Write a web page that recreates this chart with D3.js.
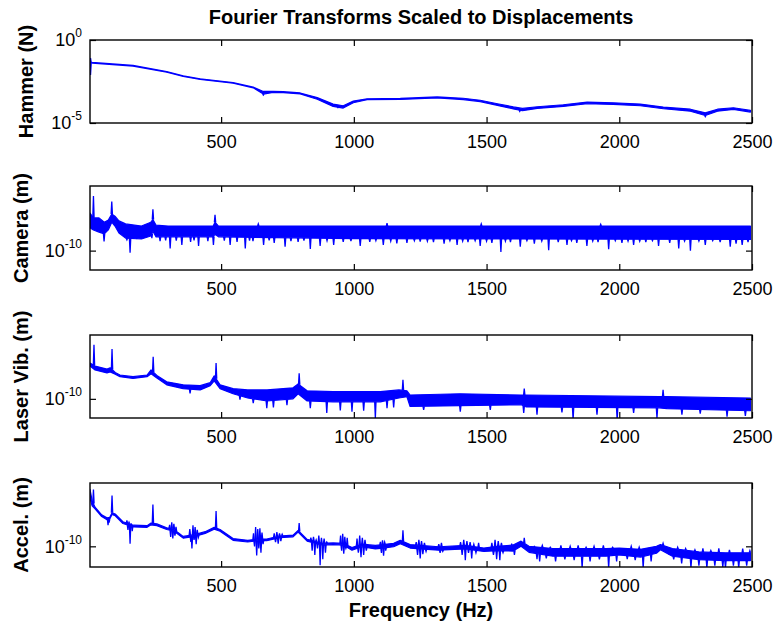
<!DOCTYPE html>
<html>
<head>
<meta charset="utf-8">
<script src="https://cdn.jsdelivr.net/npm/d3@7"></script>
<style>
  body { margin: 0; background: #fff; }
  text { font-family: "Liberation Sans", Arial, sans-serif; }
</style>
</head>
<body>
<div id="chart"></div>
<script>
"use strict"

// shared x axis
const freqDomain = [6, 2500];
const freqTicks = [500, 1000, 1500, 2000, 2500];

// all magnitudes below are log10 values
// Hammer (N)
const hammerFreq = [8, 14, 168, 295, 357, 421, 545, 621, 659, 696, 734, 798, 862, 922, 960, 998, 1050, 1175, 1314, 1412, 1476, 1541, 1601, 1635, 1691, 1789, 1879, 1977, 2079, 2166, 2268, 2324, 2370, 2430, 2494];
const hammerHi = [-1.34, -1.35, -1.53, -1.90, -2.16, -2.34, -2.56, -2.84, -3.10, -3.10, -3.11, -3.19, -3.47, -3.86, -3.96, -3.68, -3.54, -3.52, -3.43, -3.51, -3.63, -3.84, -4.03, -4.12, -4.02, -3.90, -3.74, -3.78, -3.86, -4.04, -4.17, -4.39, -4.17, -4.08, -4.24];
const hammerLo = [-1.40, -1.39, -1.57, -1.94, -2.20, -2.38, -2.60, -2.88, -3.26, -3.16, -3.17, -3.25, -3.57, -4.00, -4.10, -3.78, -3.60, -3.58, -3.49, -3.59, -3.71, -3.94, -4.15, -4.26, -4.12, -4.00, -3.84, -3.88, -3.96, -4.14, -4.29, -4.55, -4.29, -4.18, -4.34];
const hammerSpikes = [[8, -1.09], [8, -2.10], [659, -3.32], [940, -4.08], [1625, -4.30], [2324, -4.62]];

// Camera (m)
const cameraFreq = [6, 19, 40, 60, 75, 88, 100, 115, 140, 200, 235, 243, 255, 300, 470, 477, 490, 1000, 2494];
const cameraHi = [-9.13, -9.24, -9.24, -9.34, -9.29, -9.15, -9.20, -9.31, -9.38, -9.43, -9.34, -9.28, -9.41, -9.43, -9.43, -9.34, -9.43, -9.43, -9.43];
const cameraLo = [-9.47, -9.52, -9.57, -9.61, -9.52, -9.34, -9.43, -9.59, -9.71, -9.73, -9.66, -9.55, -9.68, -9.68, -9.68, -9.62, -9.68, -9.72, -9.74];
const cameraSpikes = [
  [19, -8.73], [88, -8.86], [243, -9.04], [477, -9.17], [1125, -9.36], [640, -9.38], [1480, -9.38], [1930, -9.39],
  [59, -9.79], [145, -9.75], [157, -10.05], [182, -9.71], [239, -9.71], [270, -9.78], [291, -9.76], [308, -9.95],
  [331, -9.77], [352, -9.87], [385, -9.80], [398, -9.76], [415, -9.89], [450, -9.78], [471, -9.87], [512, -9.77],
  [534, -9.87], [560, -9.80], [591, -9.95], [607, -9.77], [620, -9.78], [660, -9.87], [681, -9.76], [700, -9.82],
  [741, -9.91], [763, -9.78], [790, -9.80], [812, -9.77], [836, -9.96], [873, -9.89], [899, -9.77], [924, -9.87],
  [960, -9.80], [989, -9.78], [1024, -9.89], [1060, -9.80], [1083, -9.77], [1111, -9.87], [1139, -9.78],
  [1162, -9.83], [1200, -9.82], [1228, -9.77], [1250, -9.79], [1277, -9.78], [1300, -9.80], [1340, -9.84],
  [1362, -9.77], [1389, -9.87], [1410, -9.78], [1430, -9.80], [1457, -9.77], [1476, -9.89], [1500, -9.78],
  [1520, -9.82], [1554, -10.03], [1571, -9.78], [1590, -9.80], [1627, -9.91], [1652, -9.77], [1680, -9.84],
  [1708, -9.78], [1734, -9.99], [1770, -9.80], [1803, -9.87], [1820, -9.77], [1840, -9.82], [1878, -9.89],
  [1900, -9.78], [1920, -9.80], [1960, -9.97], [1985, -9.77], [2010, -9.82], [2033, -9.78], [2054, -9.87],
  [2077, -9.78], [2100, -9.80], [2125, -9.77], [2148, -9.89], [2190, -9.82], [2224, -9.95], [2246, -9.78],
  [2268, -10.00], [2300, -9.78], [2324, -9.87], [2352, -9.77], [2380, -9.80], [2418, -9.91], [2440, -9.84],
  [2463, -9.87], [2485, -9.80]
];

// Laser Vib. (m)
const laserFreq = [6, 25, 70, 82, 101, 119, 168, 221, 236, 258, 295, 357, 421, 459, 474, 496, 545, 600, 673, 771, 790, 824, 922, 1100, 1170, 1200, 1212, 1400, 1630, 1650, 2150, 2180, 2494];
const laserHi = [-9.16, -9.23, -9.30, -9.27, -9.38, -9.44, -9.48, -9.44, -9.32, -9.45, -9.60, -9.67, -9.69, -9.62, -9.46, -9.67, -9.76, -9.79, -9.79, -9.74, -9.65, -9.81, -9.83, -9.83, -9.79, -9.81, -9.91, -9.88, -9.91, -9.91, -9.95, -9.95, -9.98];
const laserLo = [-9.23, -9.32, -9.39, -9.37, -9.42, -9.48, -9.52, -9.48, -9.41, -9.51, -9.67, -9.76, -9.79, -9.69, -9.58, -9.76, -9.88, -9.98, -10.05, -10.00, -9.88, -10.05, -10.07, -10.07, -9.98, -9.95, -10.18, -10.16, -10.14, -10.19, -10.21, -10.23, -10.28];
const laserSpikes = [
  [21, -8.73], [89, -8.83], [244, -9.01], [481, -9.16], [794, -9.40], [1185, -9.55], [1642, -9.76], [2165, -9.79],
  [383, -9.87], [571, -10.02], [621, -10.10], [672, -10.22], [697, -10.20], [748, -10.15], [836, -10.22],
  [898, -10.33], [949, -10.27], [993, -10.30], [1037, -10.28], [1081, -10.45], [1125, -10.22], [1150, -10.20],
  [1263, -10.26], [1401, -10.30], [1514, -10.26], [1640, -10.33], [1690, -10.37], [1784, -10.32], [1826, -10.50],
  [1916, -10.37], [1992, -10.50], [2054, -10.33], [2142, -10.45], [2236, -10.37], [2305, -10.35], [2406, -10.42],
  [2475, -10.40]
];

// Accel. (m)
const accelFreq = [6, 14, 25, 50, 70, 80, 89, 101, 130, 170, 221, 236, 258, 295, 320, 357, 400, 440, 474, 496, 545, 600, 640, 672, 720, 771, 790, 824, 880, 922, 960, 993, 1030, 1081, 1110, 1150, 1175, 1212, 1250, 1320, 1420, 1490, 1540, 1600, 1630, 1660, 1750, 1850, 1950, 2000, 2080, 2140, 2155, 2200, 2300, 2400, 2494];
const accelHi = [-8.68, -8.94, -9.09, -9.27, -9.34, -9.33, -9.22, -9.25, -9.43, -9.51, -9.52, -9.46, -9.48, -9.57, -9.60, -9.77, -9.73, -9.66, -9.56, -9.61, -9.82, -9.86, -9.83, -9.83, -9.76, -9.74, -9.63, -9.84, -9.93, -9.92, -9.93, -10.03, -9.95, -9.98, -9.96, -9.93, -9.86, -9.96, -9.98, -10.01, -9.98, -10.04, -10.00, -9.97, -9.88, -10.00, -10.05, -10.05, -10.05, -10.04, -10.07, -10.00, -9.96, -10.05, -10.13, -10.15, -10.15];
const accelLo = [-8.88, -9.06, -9.13, -9.31, -9.38, -9.37, -9.26, -9.29, -9.47, -9.55, -9.56, -9.50, -9.52, -9.61, -9.64, -9.81, -9.77, -9.70, -9.60, -9.65, -9.86, -9.90, -9.87, -9.87, -9.80, -9.78, -9.67, -9.88, -9.97, -9.96, -9.97, -10.09, -10.01, -10.06, -10.04, -10.01, -9.94, -10.04, -10.06, -10.09, -10.06, -10.12, -10.10, -10.11, -10.00, -10.14, -10.23, -10.23, -10.23, -10.20, -10.25, -10.16, -10.08, -10.23, -10.31, -10.33, -10.33];
const accelSpikes = [
  [19, -8.68], [89, -8.82], [243, -9.03], [481, -9.18], [794, -9.46], [1185, -9.63], [1642, -9.80], [2165, -9.93],
  [74, -9.51], [78, -9.45],
  [145, -9.40], [149, -9.62], [153, -9.44], [157, -9.94], [161, -9.48], [165, -9.65],
  [306, -9.50], [310, -9.78], [314, -9.44], [318, -9.82], [322, -9.48], [326, -9.75], [330, -9.55],
  [382, -9.60], [386, -9.90], [390, -10.05], [394, -9.51], [398, -9.85], [402, -9.55], [406, -9.95], [410, -9.62], [414, -9.80],
  [622, -9.70], [626, -10.00], [630, -9.55], [634, -10.21], [638, -9.60], [642, -10.05], [646, -9.58], [650, -10.15], [654, -9.68], [658, -9.95],
  [700, -9.70], [705, -9.90], [710, -9.67], [715, -9.94], [720, -9.70], [725, -9.88], [730, -9.72],
  [838, -9.80], [843, -10.10], [848, -9.78], [853, -10.20], [858, -9.85], [863, -10.05], [868, -9.75], [873, -10.44],
  [878, -9.80], [883, -10.30], [888, -9.82], [893, -10.15], [898, -9.90],
  [950, -9.75], [954, -10.10], [958, -9.71], [962, -10.17], [966, -9.78], [970, -10.05], [975, -9.80],
  [1012, -9.82], [1017, -10.15], [1022, -9.75], [1027, -10.25], [1032, -9.80], [1037, -10.20], [1042, -9.85], [1047, -10.10],
  [1100, -9.90], [1104, -10.15], [1108, -9.86], [1112, -10.22], [1116, -9.90], [1120, -10.10],
  [1235, -9.90], [1240, -10.20], [1245, -9.85], [1250, -10.28], [1255, -9.88], [1260, -10.18], [1266, -9.92], [1272, -10.12],
  [1320, -9.95], [1325, -10.15], [1330, -9.92], [1335, -10.12],
  [1402, -9.90], [1408, -10.20], [1414, -9.85], [1420, -10.32], [1426, -9.88], [1432, -10.15], [1438, -9.90], [1444, -10.28],
  [1452, -9.95], [1460, -10.15], [1470, -9.92],
  [1520, -9.92], [1526, -10.20], [1532, -9.85], [1538, -10.30], [1544, -9.88], [1550, -10.32], [1556, -9.92], [1562, -10.15],
  [1595, -9.95], [1605, -10.20],
  [1680, -10.00], [1690, -10.30], [1700, -10.35], [1710, -9.98], [1725, -10.28], [1740, -10.02], [1760, -10.35], [1780, -9.98], [1795, -10.30],
  [1815, -10.00], [1830, -10.32], [1845, -9.98], [1860, -10.50], [1875, -10.02], [1890, -10.35], [1905, -10.00],
  [1925, -10.30], [1940, -9.98], [1960, -10.50], [1975, -10.02], [1990, -10.35], [2010, -10.05], [2030, -10.30],
  [2045, -10.00], [2060, -10.32], [2075, -10.02], [2090, -10.50], [2105, -10.05], [2120, -10.35],
  [2190, -10.05], [2205, -10.30], [2220, -10.02], [2235, -10.40], [2250, -10.05], [2270, -10.50], [2285, -10.08],
  [2300, -10.45], [2315, -10.05], [2330, -10.50], [2345, -10.10], [2360, -10.45],
  [2375, -10.05], [2390, -10.48], [2400, -10.50], [2415, -10.08], [2430, -10.45], [2450, -10.50], [2465, -10.05],
  [2480, -10.45], [2492, -10.10]
];

const panels = [
  {label: "Hammer (N)", freq: hammerFreq, hi: hammerHi, lo: hammerLo, spikes: hammerSpikes, yExp: [-5, 0], yTicks: [-5, 0], top: 40, h: 83, labelX: 33},
  {label: "Camera (m)", freq: cameraFreq, hi: cameraHi, lo: cameraLo, spikes: cameraSpikes, yExp: [-10.45, -8.5], yTicks: [-10], top: 186, h: 84, labelX: 28},
  {label: "Laser Vib. (m)", freq: laserFreq, hi: laserHi, lo: laserLo, spikes: laserSpikes, yExp: [-10.45, -8.5], yTicks: [-10], top: 335, h: 83, labelX: 28},
  {label: "Accel. (m)", freq: accelFreq, hi: accelHi, lo: accelLo, spikes: accelSpikes, yExp: [-10.48, -8.53], yTicks: [-10], top: 483, h: 84, labelX: 28}
];

const W = 773, H = 624;
const left = 90, right = 752;
const plotW = right - left;
const tickLen = 6;

let svg = d3.select("#chart").append("svg")
  .attr("width", W)
  .attr("height", H);

svg.append("rect").attr("width", W).attr("height", H).attr("fill", "#fff");

let x = d3.scaleLinear().domain(freqDomain).range([0, plotW]);

panels.forEach(function(p, i) {
  let g = svg.append("g").attr("transform", "translate(" + left + "," + p.top + ")");
  let y = d3.scaleLog()
    .domain([Math.pow(10, p.yExp[0]), Math.pow(10, p.yExp[1])])
    .range([p.h, 0]);

  let clipId = "clip" + i;
  g.append("clipPath").attr("id", clipId)
    .append("rect").attr("width", plotW).attr("height", p.h);

  let rows = p.freq.map(function(f, k) { return {f: f, hi: p.hi[k], lo: p.lo[k]}; });

  let area = d3.area()
    .x(function(d) { return x(d.f); })
    .y0(function(d) { return y(Math.pow(10, d.lo)); })
    .y1(function(d) { return y(Math.pow(10, d.hi)); });

  let dataG = g.append("g").attr("clip-path", "url(#" + clipId + ")");

  dataG.append("path")
    .datum(rows)
    .attr("d", area)
    .attr("fill", "#0000ff")
    .attr("stroke", "#0000ff")
    .attr("stroke-width", 1.2)
    .attr("stroke-linejoin", "round");

  // band edges at any frequency, for the spike bases
  let hiAt = d3.scaleLinear().domain(p.freq).range(p.hi).clamp(true);
  let loAt = d3.scaleLinear().domain(p.freq).range(p.lo).clamp(true);

  dataG.selectAll(".spike")
    .data(p.spikes)
    .enter().append("path")
    .attr("class", "spike")
    .attr("d", function(d) {
      let up = d[1] > hiAt(d[0]);
      let base = up ? hiAt(d[0]) : loAt(d[0]);
      let yb = y(Math.pow(10, base)), yv = y(Math.pow(10, d[1]));
      return "M" + x(d[0] - 2.5) + "," + yb + "L" + x(d[0]) + "," + yv + "L" + x(d[0] + 2.5) + "," + yb;
    })
    .attr("fill", "none")
    .attr("stroke", "#0000ff")
    .attr("stroke-width", 1.3);

  // axes, ticks pointing inward on all four sides
  let xb = g.append("g").attr("transform", "translate(0," + p.h + ")")
    .call(d3.axisBottom(x).tickValues(freqTicks).tickFormat(d3.format("d"))
      .tickSizeInner(-tickLen).tickSizeOuter(0).tickPadding(12));
  g.append("g")
    .call(d3.axisTop(x).tickValues(freqTicks).tickSizeInner(-tickLen).tickSizeOuter(0).tickFormat(""));

  let yTickVals = p.yTicks.map(function(e) { return Math.pow(10, e); });
  let yl = g.append("g")
    .call(d3.axisLeft(y).tickValues(yTickVals).tickSizeInner(-tickLen).tickSizeOuter(0).tickPadding(8));
  g.append("g").attr("transform", "translate(" + plotW + ",0)")
    .call(d3.axisRight(y).tickValues(yTickVals).tickSizeInner(-tickLen).tickSizeOuter(0).tickFormat(""));

  g.selectAll(".domain").remove();
  g.selectAll(".tick line").attr("stroke", "#000").attr("stroke-width", 1.2);

  xb.selectAll(".tick text")
    .style("font-size", "18px")
    .style("font-family", "'Liberation Sans', Arial, sans-serif")
    .attr("fill", "#000");

  yl.selectAll(".tick text")
    .style("font-size", "18px")
    .style("font-family", "'Liberation Sans', Arial, sans-serif")
    .attr("fill", "#000")
    .each(function(d) {
      let t = d3.select(this);
      let ex = Math.round(Math.log10(d));
      t.text(null);
      t.append("tspan").text("10");
      t.append("tspan").attr("dy", "-0.75em").style("font-size", "12px").text(ex);
    });

  g.append("rect")
    .attr("width", plotW)
    .attr("height", p.h)
    .attr("fill", "none")
    .attr("stroke", "#000")
    .attr("stroke-width", 1.4);

  svg.append("text")
    .attr("transform", "translate(" + p.labelX + "," + (p.top + p.h / 2) + ") rotate(-90)")
    .attr("text-anchor", "middle")
    .style("font-size", "20px")
    .style("font-weight", "bold")
    .text(p.label);
});

svg.append("text")
  .attr("x", (left + right) / 2)
  .attr("y", 24)
  .attr("text-anchor", "middle")
  .style("font-size", "20px")
  .style("font-weight", "bold")
  .text("Fourier Transforms Scaled to Displacements");

svg.append("text")
  .attr("x", (left + right) / 2)
  .attr("y", 617)
  .attr("text-anchor", "middle")
  .style("font-size", "20px")
  .style("font-weight", "bold")
  .text("Frequency (Hz)");
</script>
</body>
</html>
